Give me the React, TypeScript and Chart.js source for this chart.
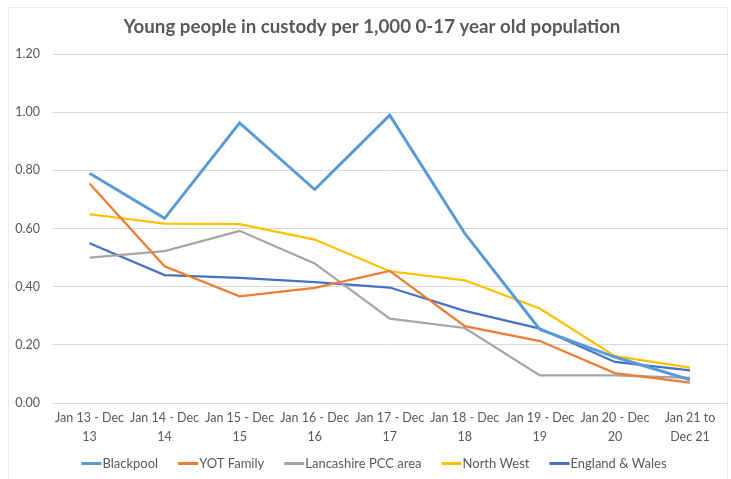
import React, { useEffect, useRef } from "react";
import { Chart, registerables } from "chart.js";

Chart.register(...registerables);

const titleText = "Young people in custody per 1,000 0-17 year old population";

const categories: string[][] = [
  ["Jan 13 - Dec", "13"],
  ["Jan 14 - Dec", "14"],
  ["Jan 15 - Dec", "15"],
  ["Jan 16 - Dec", "16"],
  ["Jan 17 - Dec", "17"],
  ["Jan 18 - Dec", "18"],
  ["Jan 19 - Dec", "19"],
  ["Jan 20 - Dec", "20"],
  ["Jan 21 to", "Dec 21"],
];

const seriesNames = ["Blackpool", "YOT Family", "Lancashire PCC area", "North West", "England & Wales"];
const blackpool = [0.79, 0.635, 0.963, 0.734, 0.99, 0.583, 0.253, 0.158, 0.08];
const yotFamily = [0.755, 0.47, 0.367, 0.396, 0.454, 0.264, 0.213, 0.103, 0.07];
const lancashire = [0.5, 0.522, 0.592, 0.48, 0.29, 0.258, 0.095, 0.095, 0.086];
const northWest = [0.649, 0.617, 0.615, 0.562, 0.453, 0.422, 0.325, 0.161, 0.122];
const englandWales = [0.549, 0.44, 0.43, 0.416, 0.397, 0.317, 0.256, 0.141, 0.112];

const yTicks = [0, 0.2, 0.4, 0.6, 0.8, 1.0, 1.2];

const FONT = "Lato, 'Open Sans', sans-serif";
const TEXT = "#595959";

const framePlugin = {
  id: "frame",
  beforeDraw(chart: any) {
    const ctx = chart.ctx;
    ctx.save();
    ctx.fillStyle = "#ffffff";
    ctx.fillRect(0, 0, chart.width, chart.height);
    ctx.strokeStyle = "#ebebeb";
    ctx.lineWidth = 1;
    ctx.strokeRect(8.5, 7.5, 719, 475);
    ctx.restore();
  },
  afterDraw(chart: any) {
    const ctx = chart.ctx;
    ctx.save();
    // title
    ctx.fillStyle = TEXT;
    ctx.font = `bold 18.7px ${FONT}`;
    ctx.textAlign = "center";
    ctx.textBaseline = "middle";
    ctx.fillText(titleText, 372, 27);
    // legend
    ctx.font = `13px ${FONT}`;
    ctx.textAlign = "left";
    const ds = chart.data.datasets;
    const marker = 20;
    const gap = 20;
    const widths = ds.map((d: any) => marker + 1 + ctx.measureText(d.label).width);
    const total = widths.reduce((a: number, b: number) => a + b, 0) + gap * (ds.length - 1);
    let x = 374 - total / 2;
    const y = 463.5;
    ds.forEach((d: any, i: number) => {
      ctx.fillStyle = d.borderColor;
      ctx.fillRect(x, y - 1.5, marker, 3);
      ctx.fillStyle = TEXT;
      ctx.fillText(d.label, x + marker + 1, y);
      x += widths[i] + gap;
    });
    ctx.restore();
  },
};

export default function App() {
  const ref = useRef<HTMLCanvasElement | null>(null);

  useEffect(() => {
    if (!ref.current) return;
    const mk = (label: string, data: number[], color: string, w: number) => ({
      label,
      data,
      borderColor: color,
      backgroundColor: color,
      borderWidth: w,
      pointRadius: 0,
      tension: 0,
      fill: false,
    });
    const chart = new Chart(ref.current, {
      type: "line",
      data: {
        labels: categories,
        datasets: [
          mk(seriesNames[0], blackpool, "#5B9BD5", 3),
          mk(seriesNames[1], yotFamily, "#ED7D31", 2.25),
          mk(seriesNames[2], lancashire, "#A5A5A5", 2.25),
          mk(seriesNames[3], northWest, "#FFC000", 2.25),
          mk(seriesNames[4], englandWales, "#4472C4", 2.25),
        ],
      },
      plugins: [framePlugin],
      options: {
        animation: false,
        responsive: true,
        maintainAspectRatio: false,
        layout: { padding: { left: 0, right: 3.5, top: 54, bottom: 31 } },
        plugins: {
          title: { display: false },
          legend: { display: false },
          tooltip: { enabled: false },
        },
        scales: {
          x: {
            offset: true,
            grid: { display: false, drawTicks: false },
            border: { display: false },
            afterFit: (s: any) => {
              s.height = 45;
            },
            ticks: {
              color: TEXT,
              font: { family: FONT, size: 12.5, lineHeight: 1.52 },
              padding: 5.5,
              maxRotation: 0,
              autoSkip: false,
            },
          },
          y: {
            min: 0,
            max: 1.2,
            afterBuildTicks: (s: any) => {
              s.ticks = yTicks.map((v) => ({ value: v }));
            },
            afterFit: (s: any) => {
              s.width = 52;
            },
            grid: { color: "#d9d9d9", lineWidth: 1, drawTicks: false },
            border: { display: false },
            ticks: {
              color: TEXT,
              font: { family: FONT, size: 12.5 },
              padding: 12,
              callback: (v: any) => Number(v).toFixed(2),
            },
          },
        },
      },
    } as any);
    return () => chart.destroy();
  }, []);

  return (
    <div style={{ position: "absolute", left: 0, top: 0, width: 731, height: 479 }}>
      <canvas ref={ref} />
    </div>
  );
}
